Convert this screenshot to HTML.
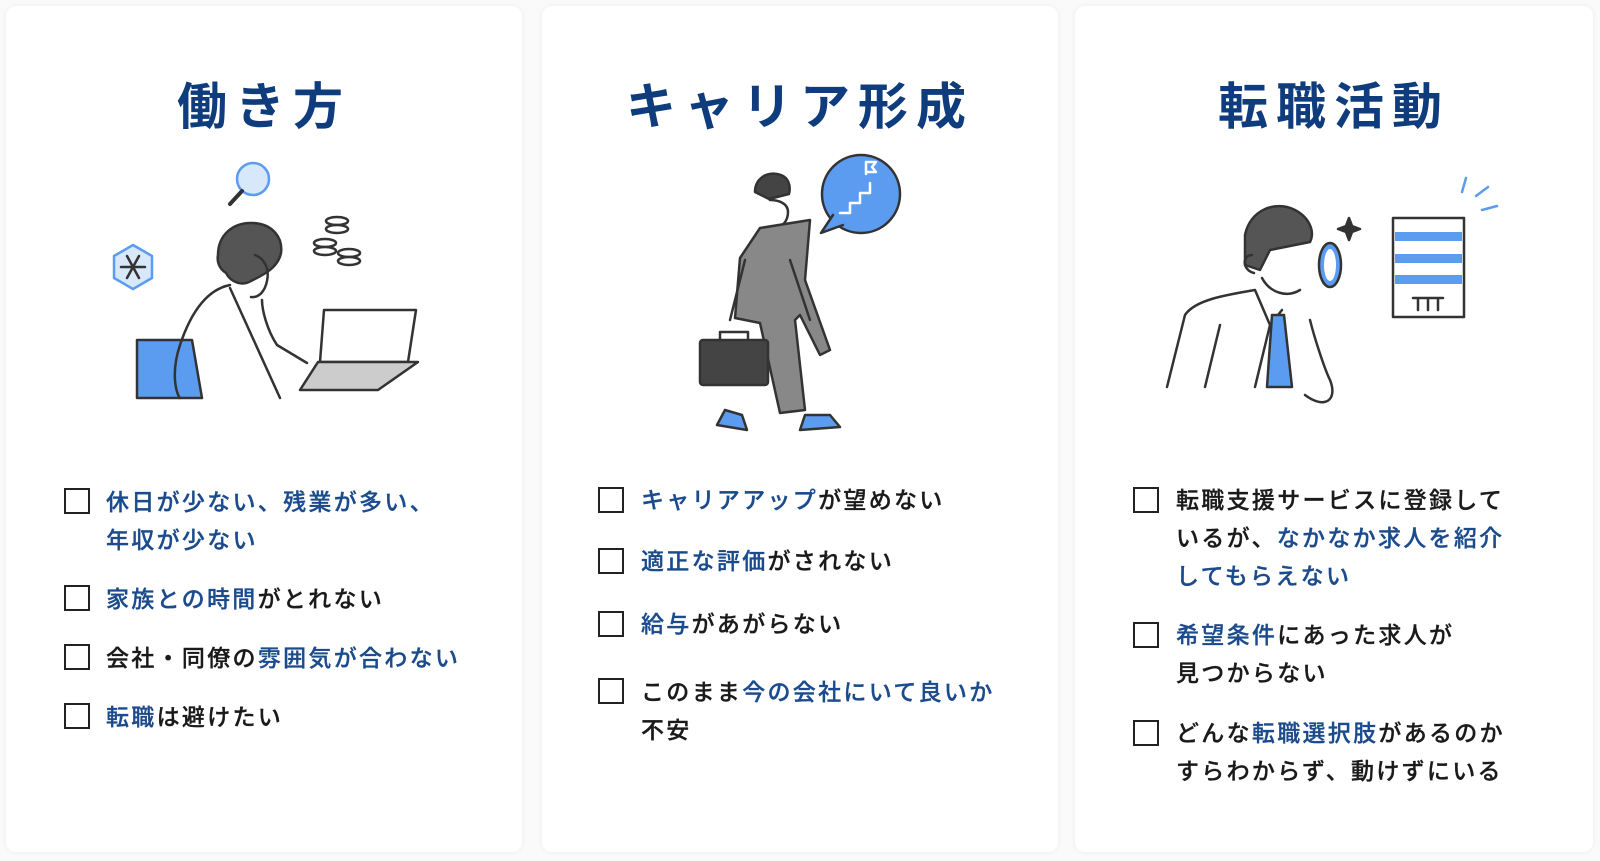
<!DOCTYPE html>
<html><head><meta charset="utf-8"><style>
html,body{margin:0;padding:0;background:#fafafa;width:1600px;height:861px;overflow:hidden;font-family:"Liberation Sans","Noto Sans CJK JP",sans-serif}
.card{position:absolute;top:6px;height:846px;background:#fff;border-radius:10px;box-shadow:0 0 6px rgba(0,0,0,0.06)}
.t{position:absolute;left:0;right:0;top:61px;text-align:center;font-size:50px;font-weight:bold;color:#0f3c7c;letter-spacing:8px}
.cb{position:absolute;width:26px;height:26px;border:2px solid #222;box-sizing:border-box}
.tx{position:absolute;font-size:23px;line-height:38px;letter-spacing:2.3px;color:#1a1a1a;font-weight:500;white-space:nowrap;-webkit-text-stroke:0.3px currentColor}
.b{color:#1b4b8c}
svg{position:absolute;left:0;top:0}
</style></head><body>
<div class="card" style="left:6px;width:516px"><div class="t">働き方</div></div>
<div class="card" style="left:542px;width:516px"><div class="t">キャリア形成</div></div>
<div class="card" style="left:1075px;width:518px"><div class="t">転職活動</div></div>

<div class="cb" style="left:64px;top:488px"></div>
<div class="tx" style="left:106px;top:483px"><span class="b">休日が少ない、残業が多い、<br>年収が少ない</span></div>
<div class="cb" style="left:64px;top:585px"></div>
<div class="tx" style="left:106px;top:580px"><span class="b">家族との時間</span>がとれない</div>
<div class="cb" style="left:64px;top:644px"></div>
<div class="tx" style="left:106px;top:639px">会社・同僚の<span class="b">雰囲気が合わない</span></div>
<div class="cb" style="left:64px;top:703px"></div>
<div class="tx" style="left:106px;top:698px"><span class="b">転職</span>は避けたい</div>

<div class="cb" style="left:598px;top:487px"></div>
<div class="tx" style="left:641px;top:481px"><span class="b">キャリアアップ</span>が望めない</div>
<div class="cb" style="left:598px;top:548px"></div>
<div class="tx" style="left:641px;top:542px"><span class="b">適正な評価</span>がされない</div>
<div class="cb" style="left:598px;top:611px"></div>
<div class="tx" style="left:641px;top:605px"><span class="b">給与</span>があがらない</div>
<div class="cb" style="left:598px;top:678px"></div>
<div class="tx" style="left:641px;top:673px">このまま<span class="b">今の会社にいて良いか</span><br>不安</div>

<div class="cb" style="left:1133px;top:487px"></div>
<div class="tx" style="left:1176px;top:481px">転職支援サービスに登録して<br>いるが、<span class="b">なかなか求人を紹介<br>してもらえない</span></div>
<div class="cb" style="left:1133px;top:622px"></div>
<div class="tx" style="left:1176px;top:616px"><span class="b">希望条件</span>にあった求人が<br>見つからない</div>
<div class="cb" style="left:1133px;top:720px"></div>
<div class="tx" style="left:1176px;top:714px">どんな<span class="b">転職選択肢</span>があるのか<br>すらわからず、動けずにいる</div>

<svg width="1600" height="861" viewBox="0 0 1600 861" fill="none" stroke="#333" stroke-width="2.5" stroke-linecap="round" stroke-linejoin="round">
<circle cx="253" cy="179" r="16" fill="#d8e8fb" stroke="#5b9cf0"/>
<line x1="242" y1="191" x2="230" y2="204" stroke="#333" stroke-width="4"/>
<polygon points="133,245 152,256 152,278 133,289 114,278 114,256" fill="#d8e8fb" stroke="#5b9cf0"/>
<path d="M121 267h24M127 256l12 22M139 256l-12 22"/>
<ellipse cx="337" cy="221" rx="11" ry="4" fill="#fff"/><ellipse cx="337" cy="229" rx="11" ry="4" fill="#fff"/>
<ellipse cx="325" cy="243" rx="11" ry="4" fill="#fff"/><ellipse cx="325" cy="251" rx="11" ry="4" fill="#fff"/>
<ellipse cx="349" cy="253" rx="11" ry="4" fill="#fff"/><ellipse cx="349" cy="261" rx="11" ry="4" fill="#fff"/>
<path d="M324 310h92l-8 52h-88z" fill="#fff"/>
<path d="M300 390l18-28h100l-40 28z" fill="#ccc"/>
<path d="M137 340h55l10 58h-65z" fill="#5b9cf0"/>
<path d="M218 255c0-20 15-33 35-32 20 1 30 15 28 30-3 15-18 22-30 28-8 5-20 2-25-8-8-5-9-13-8-18z" fill="#555"/>
<path d="M255 255c8 3 15 12 12 26-2 10-8 17-16 16"/>
<path d="M230 285c-25 5-40 30-50 60s-3 50 0 53M230 288l50 110M262 300c0 10 5 30 15 45l30 18"/>
<circle cx="861" cy="194" r="39" fill="#5b9cf0" stroke="#333"/>
<path d="M833 215l-12 18 22-8" fill="#5b9cf0"/>
<path d="M840 213h10v-10h10v-10h10v-10" stroke="#fff"/><path d="M866 174v-12h10l-4 5 4 5h-10" stroke="#fff"/>
<path d="M755 192c0-12 10-20 22-18 12 2 14 12 12 20l-20 5z" fill="#444"/>
<path d="M770 200c8 0 18 3 18 12s-6 16-14 16"/>
<path d="M760 228l-20 30-5 60 25 5 20 90 25-3-10-90 5-5 20 40 10-5-25-70 5-60z" fill="#888"/>
<path d="M745 260l-15 60M790 260l20 60"/>
<rect x="700" y="340" width="68" height="45" rx="3" fill="#444"/>
<path d="M720 340v-8h28v8"/>
<path d="M725 410l-8 15 30 5 -5-15z" fill="#5b9cf0"/><path d="M805 415l-5 15 40-3 -10-12z" fill="#5b9cf0"/>
<path d="M1349 218l3 8 8 3-8 3-3 8-3-8-8-3 8-3z" fill="#333"/>
<path d="M1466 178l-4 14M1476 196l12-9M1482 210l15-4" stroke="#5b9cf0"/>
<rect x="1393" y="218" width="71" height="99" fill="#fff"/>
<rect x="1395" y="232" width="67" height="9" fill="#5b9cf0" stroke="none"/>
<rect x="1395" y="254" width="67" height="9" fill="#5b9cf0" stroke="none"/>
<rect x="1395" y="275" width="67" height="9" fill="#5b9cf0" stroke="none"/>
<path d="M1413 298h30M1418 298v12M1428 298v12M1438 298v12"/>
<path d="M1245 235c5-25 30-35 50-25 15 8 20 22 15 32l-40 8-10 20-15-5z" fill="#555"/>
<path d="M1252 255c-10 0-10 15 2 18M1262 278c8 15 25 20 38 12"/>
<ellipse cx="1330" cy="265" rx="11" ry="22" fill="#5b9cf0"/><ellipse cx="1330" cy="265" rx="6" ry="16" fill="#fff" stroke="none"/>
<path d="M1255 290c-30 5-60 10-70 25l-18 72M1255 290l15 35 12-15M1270 325l-15 62M1310 320c5 20 15 50 20 60 8 20-5 30-25 15"/>
<path d="M1272 315l12 0 8 72h-25z" fill="#5b9cf0"/>
<path d="M1220 325l-15 62"/>
</svg>
</body></html>
